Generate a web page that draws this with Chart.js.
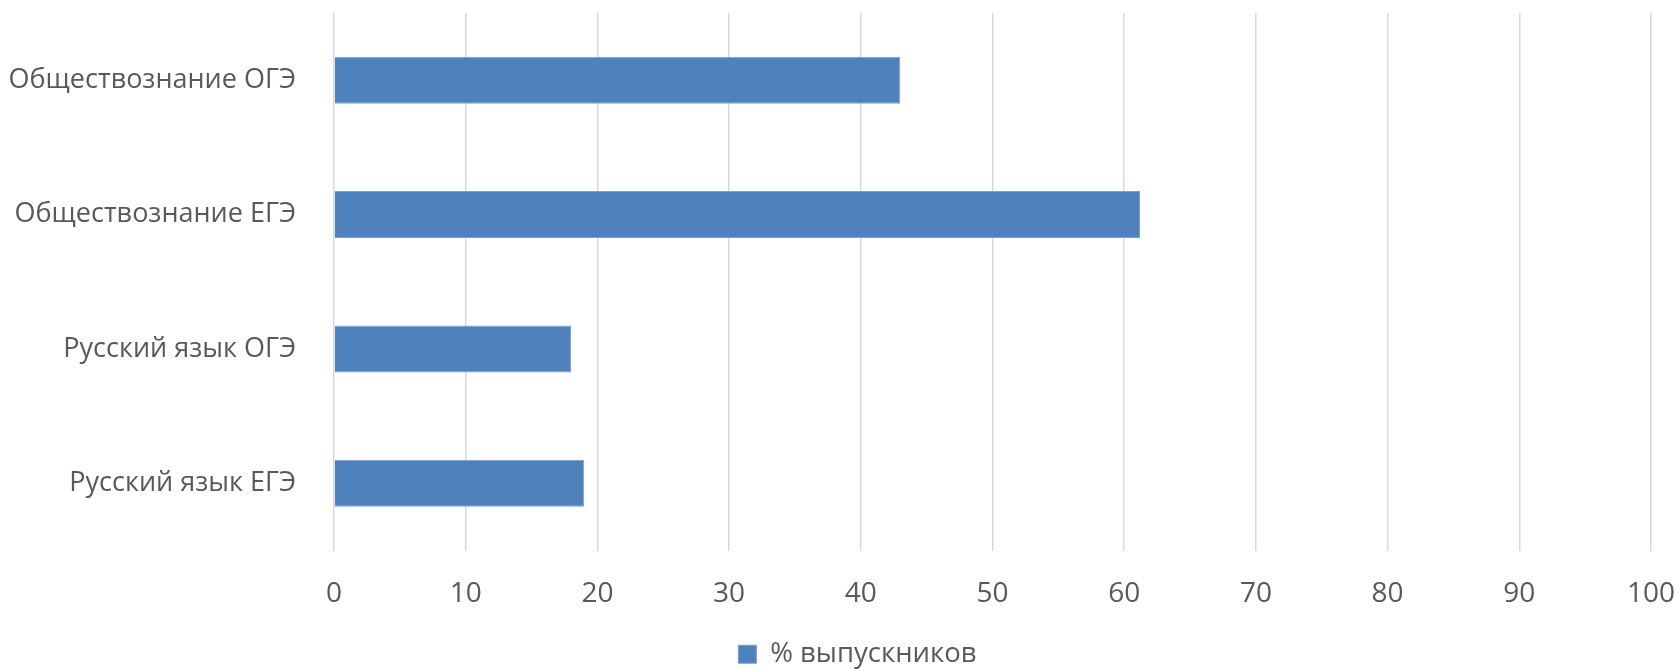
<!DOCTYPE html>
<html>
<head>
<meta charset="utf-8">
<script src="https://cdn.jsdelivr.net/npm/chart.js@4/dist/chart.umd.min.js"></script>
<style>
    html, body { margin: 0; padding: 0; background: #fff; }
    #wrap { width: 1679px; height: 669px; }
</style>
</head>
<body>
<div id="wrap"><canvas id="chart" width="1679" height="669"></canvas></div>
<script>
const categories = ["Обществознание ОГЭ", "Обществознание ЕГЭ", "Русский язык ОГЭ", "Русский язык ЕГЭ"];
const graduates = [43, 61.2, 18, 19];
const seriesLabel = "% выпускников";
const xTicks = [0, 10, 20, 30, 40, 50, 60, 70, 80, 90, 100];

const textColor = "#595959";
const fontFamily = "'Open Sans', 'DejaVu Sans', sans-serif";

// the legend in the original sits a little right of the canvas centre
const legendShift = {
    id: "legendShift",
    afterLayout(chart) {
        chart.legend.left += 32;
        chart.legend.right += 32;
    }
};

const ctx = document.getElementById("chart").getContext("2d");
new Chart(ctx, {
    type: "bar",
    data: {
        labels: categories,
        datasets: [{
            label: seriesLabel,
            data: graduates,
            backgroundColor: "#4F81BD",
            borderColor: "#7BA0CD",
            borderWidth: 1,
            barPercentage: 0.35,
            categoryPercentage: 1
        }]
    },
    options: {
        indexAxis: "y",
        responsive: false,
        animation: false,
        layout: { padding: { top: 13, right: 28, bottom: -9, left: 0 } },
        plugins: {
            tooltip: { enabled: false },
            legend: {
                position: "bottom",
                labels: {
                    color: textColor,
                    font: { family: fontFamily, size: 27.5 },
                    boxWidth: 18,
                    boxHeight: 18,
                    padding: 12
                }
            }
        },
        scales: {
            x: {
                min: 0,
                max: 100,
                afterBuildTicks: scale => { scale.ticks = xTicks.map(v => ({ value: v })); },
                afterFit: scale => {
                    scale.height = 78;
                    scale.paddingLeft = 0;
                    scale.paddingRight = 0;
                },
                grid: { color: "#D9D9D9", lineWidth: 1.5, drawTicks: false },
                border: { display: false },
                ticks: {
                    color: textColor,
                    font: { family: fontFamily, size: 28 },
                    padding: 27
                }
            },
            y: {
                afterFit: scale => {
                    scale.width = 334;
                    scale.paddingTop = 0;
                    scale.paddingBottom = 0;
                },
                grid: { display: false },
                border: { display: false },
                ticks: {
                    color: textColor,
                    font: { family: fontFamily, size: 27 },
                    padding: 30
                }
            }
        }
    },
    plugins: [legendShift]
});
</script>
</body>
</html>
